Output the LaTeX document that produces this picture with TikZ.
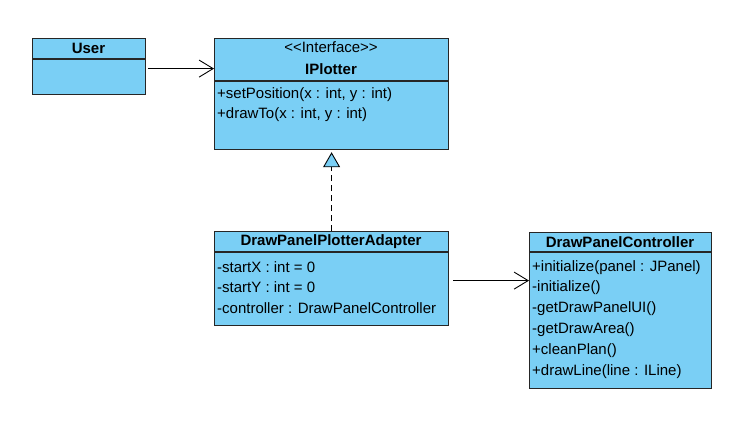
\documentclass[tikz,border=0pt]{standalone}
\usepackage{fontspec}
\setmainfont{Liberation Sans}
\usetikzlibrary{arrows.meta}
\definecolor{umlblue}{RGB}{122,207,245}

\begin{document}
\begin{tikzpicture}[x=1pt,y=-1pt]
  \tikzset{classbox/.style={draw=black!85,fill=umlblue,line width=1.2pt,anchor=north west,inner sep=0pt},
    member/.style={anchor=west,inner sep=0pt,font=\fontsize{15}{17}\selectfont},
    title/.style={inner sep=0pt,font=\bfseries\fontsize{15}{17}\selectfont},
    assoc/.style={line width=0.9pt,-{Straight Barb[length=14pt,width=17pt,line width=0.9pt]}},
    realize/.style={line width=0.9pt,dash pattern=on 6pt off 4pt,-{Triangle[fill=umlblue,length=15pt,width=17pt,line width=0.9pt]}}}
  \useasboundingbox (0,0) rectangle (755,436);
  % User
  \node[classbox,minimum width=113pt,minimum height=56pt] (user) at (32,38) {};
  \draw[line width=1.2pt,draw=black!85] (32,59) -- (145,59);
  \node[title] (usertitle) at (88.5,48) {User};
  % IPlotter
  \node[classbox,minimum width=234pt,minimum height=111pt] (iplotter) at (214,38) {};
  \draw[line width=1.2pt,draw=black!85] (214,81) -- (448,81);
  \node[inner sep=0pt,font=\fontsize{15}{17}\selectfont] (stereo) at (331,47) {{<}{<}Interface{>}{>}};
  \node[title] (iplottertitle) at (331,69) {IPlotter};
  \node[member] (setpos) at (217,95) {+setPosition(x : int, y : int)};
  \node[member] (drawto) at (217,115) {+drawTo(x : int, y : int)};
  % DrawPanelPlotterAdapter
  \node[classbox,minimum width=234pt,minimum height=94pt] (adapter) at (214,231) {};
  \draw[line width=1.2pt,draw=black!85] (214,252) -- (448,252);
  \node[title] (adaptertitle) at (331,242) {DrawPanelPlotterAdapter};
  \node[member] (startx) at (217,267) {-startX : int = 0};
  \node[member] (starty) at (217,287) {-startY : int = 0};
  \node[member] (ctrl) at (217,308) {-controller : DrawPanelController};
  % DrawPanelController
  \node[classbox,minimum width=182pt,minimum height=156pt] (controller) at (529,232) {};
  \draw[line width=1.2pt,draw=black!85] (529,252) -- (711,252);
  \node[title] (controllertitle) at (620,242) {DrawPanelController};
  \node[member] (init) at (532,268) {+initialize(panel : JPanel)};
  \node[member] (initp) at (532,288) {-initialize()};
  \node[member] (getui) at (532,309) {-getDrawPanelUI()};
  \node[member] (getarea) at (532,330) {-getDrawArea()};
  \node[member] (clean) at (532,351) {+cleanPlan()};
  \node[member] (drawline) at (532,372) {+drawLine(line : ILine)};
  % connectors
  \draw[assoc] ([xshift=2pt,yshift=-2pt]user.east) -- ([yshift=-2pt]user.east -| iplotter.west);
  \draw[realize] (adapter.north) -- ([yshift=-2pt]iplotter.south);
  \draw[assoc] ([xshift=4pt,yshift=-2pt]adapter.east) -- ([yshift=-2pt]adapter.east -| controller.west);
\end{tikzpicture}
\end{document}
